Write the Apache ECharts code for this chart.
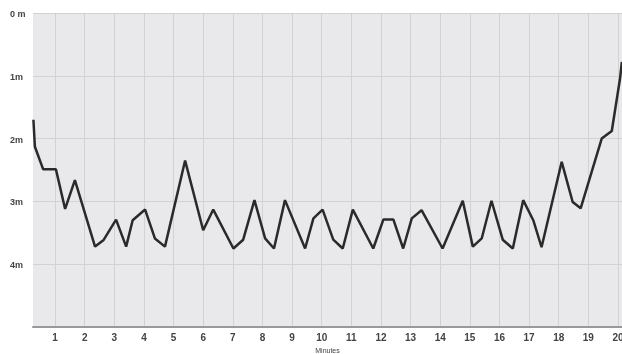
<!DOCTYPE html>
<html>
<head>
<meta charset="utf-8">
<script src="https://cdn.jsdelivr.net/npm/echarts@6/dist/echarts.min.js"></script>
<style>html,body{margin:0;padding:0;background:#fff;}#c{width:622px;height:354px;}</style>
</head>
<body>
<div id="c"></div>
<script>
var minutes = [0.27,0.32,0.60,1.03,1.34,1.67,2.35,2.63,3.06,3.40,3.62,4.04,4.37,4.71,5.39,6.00,6.34,7.02,7.35,7.73,8.09,8.39,8.76,9.44,9.72,10.03,10.39,10.71,11.05,11.74,12.08,12.42,12.75,13.04,13.37,14.08,14.76,15.10,15.40,15.73,16.11,16.45,16.80,17.14,17.42,18.10,18.47,18.74,19.45,19.79,20.07,20.13];
var depth = [1.70,2.13,2.49,2.49,3.12,2.66,3.72,3.62,3.29,3.72,3.30,3.13,3.59,3.72,2.35,3.46,3.13,3.75,3.61,2.98,3.59,3.75,2.98,3.75,3.27,3.13,3.61,3.75,3.13,3.75,3.29,3.29,3.75,3.27,3.14,3.75,2.99,3.72,3.59,2.99,3.61,3.75,2.98,3.30,3.73,2.37,3.01,3.11,2.00,1.88,1.04,0.78];
var depthLabels = ["0 m","1m","2m","3m","4m",""];
var xTicks = [1,2,3,4,5,6,7,8,9,10,11,12,13,14,15,16,17,18,19,20];

var pts = minutes.map(function(m,i){return [m, depth[i]];});
var chart = echarts.init(document.getElementById('c'));
chart.setOption({
  animation:false,
  grid:{left:33,right:0,top:13,bottom:27,outerBoundsMode:'none',containLabel:false,show:true,backgroundColor:'#e9e9eb',borderWidth:0},
  xAxis:{
    type:'value', min:0.256, max:20.135,
    name:'Minutes', nameLocation:'middle', nameGap:21,
    nameTextStyle:{fontSize:7,color:'#444',fontFamily:'Liberation Sans'},
    axisLine:{show:true,onZero:false,lineStyle:{color:'#999',width:2}},
    axisTick:{show:false,customValues:xTicks},
    axisLabel:{color:'#444',fontSize:10,fontWeight:'bold',fontFamily:'Liberation Sans',margin:6,customValues:xTicks,
      formatter:function(v){return String(Math.round(v));}},
    splitLine:{show:true,customValues:xTicks,lineStyle:{color:'#d2d2d4',width:1}}
  },
  yAxis:{
    type:'value', inverse:true, min:0, max:5, interval:1,
    axisLine:{show:false}, axisTick:{show:false},
    axisLabel:{color:'#444',fontSize:9,fontWeight:'bold',fontFamily:'Liberation Sans',align:'left',margin:23,verticalAlign:'top',padding:[-3,0,0,0],
      formatter:function(v){return depthLabels[Math.round(v)];}},
    splitLine:{show:true,lineStyle:{color:'#d2d2d4',width:1}}
  },
  series:[{type:'line',data:pts,showSymbol:false,lineStyle:{color:'#2a2a2a',width:2.5},clip:false}]
});
</script>
</body>
</html>
